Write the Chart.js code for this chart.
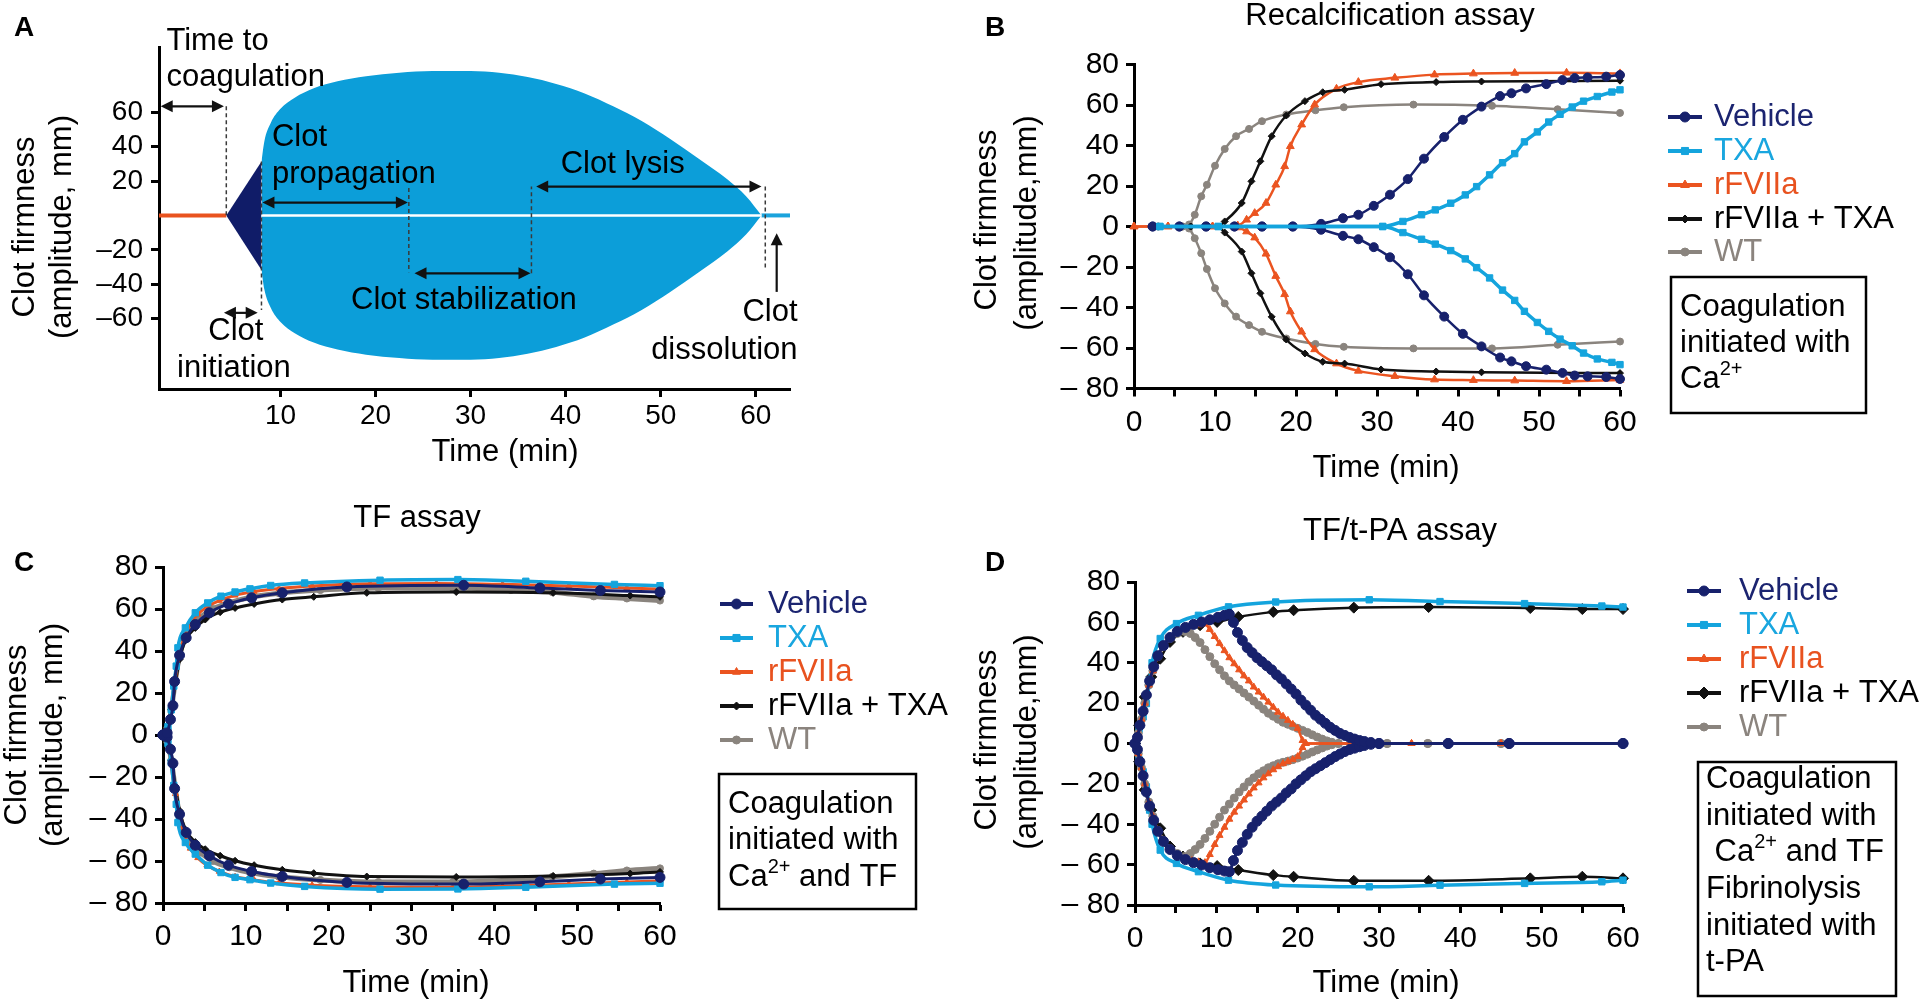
<!DOCTYPE html>
<html>
<head>
<meta charset="utf-8">
<script src="https://cdn.jsdelivr.net/npm/chart.js@4.4.0/dist/chart.umd.min.js"></script>
<style>
  html, body { margin: 0; padding: 0; background: #fff; }
  body { width: 1920px; height: 1000px; position: relative; overflow: hidden; }
  canvas { position: absolute; }
</style>
</head>
<body>
<canvas id="panelA" width="830" height="480" style="left:0px;top:0px"></canvas>
<canvas id="panelB" width="960" height="490" style="left:960px;top:0px"></canvas>
<canvas id="panelC" width="960" height="510" style="left:0px;top:490px"></canvas>
<canvas id="panelD" width="960" height="510" style="left:960px;top:490px"></canvas>
<script>
const FONT = '"Liberation Sans", Arial, Helvetica, sans-serif';

// ---------- panel A (schematic thromboelastogram) ----------
const aXTicks = [10, 20, 30, 40, 50, 60];
const aYTicks = [-60, -40, -20, 20, 40, 60];
const aBlobX   = [8, 8.3, 9, 10, 11.5, 13.5, 16, 19, 22.5, 26, 30, 33, 36, 39, 42, 45, 48, 51, 54, 57, 59, 60.6];
const aBlobTop = [31.4, 43, 54, 62, 68.5, 74, 78, 81, 83, 84, 84, 83, 80.5, 76.5, 71, 63.5, 55, 44.5, 33, 21, 11, 0];
const aBlobBot = [-31.8, -43, -54, -62, -68.5, -74, -78, -81, -83, -84, -84, -83, -80.5, -76.5, -71, -63.5, -55, -44.5, -33, -21, -11, 0];
const aTriX = [4.3, 8];
const aTriTop = [0, 31.4];
const aTriBot = [0, -31.8];
const aLagX = [-2.78, 4.3];
const aLagY = [0, 0];
const aBaseX = [8, 60.6];
const aBaseY = [0, 0];
const aTailX = [60.6, 63.6];
const aTailY = [0, 0];

// ---------- panels B-D ----------
const seriesNames = ['Vehicle', 'TXA', 'rFVIIa', 'rFVIIa + TXA', 'WT'];
const yTicks = [-80, -60, -40, -20, 0, 20, 40, 60, 80];
const xTicks = [0, 5, 10, 15, 20, 25, 30, 35, 40, 45, 50, 55, 60];

// B: recalcification assay
const bVehX  = [2.3, 5.6, 8.9, 12.4, 15.8, 19.6, 23.1, 25.8, 27.7, 29.6, 31.6, 33.8, 35.8, 38.3, 40.6, 42.9, 45.2, 46.6, 48.4, 50.9, 52.9, 54.4, 56, 58.3, 60];
const bVehUp = [0, 0, 0, 0, 0, 0, 1.3, 4.1, 5.8, 10.2, 15.7, 23.4, 33.5, 44.2, 52.7, 59.2, 64.4, 65.8, 68.2, 70.3, 72.3, 73.3, 73.6, 74, 74.8];
const bVehLo = [0, 0, 0, 0, 0, 0, -1.6, -4.6, -6.3, -10.2, -15.2, -23.6, -34, -44.5, -53, -59.2, -64.7, -66.6, -69, -70.7, -72.3, -73.6, -74, -74.3, -75.3];
const bTxaX  = [3.2, 10.4, 30.7, 33.2, 35.5, 37.2, 39.1, 40.9, 42.3, 43.9, 45.5, 47, 48.2, 49.8, 51.2, 52.6, 54.1, 55.5, 57.2, 59, 60];
const bTxaUp = [0, 0, 0, 2.5, 5.8, 8.2, 11.5, 15.6, 19.7, 25.5, 31.5, 36, 41.8, 46.7, 51.6, 55.4, 59, 61.9, 64.2, 66.4, 67.5];
const bTxaLo = [0, 0, 0, -3, -6.3, -8.7, -11.9, -16, -20.3, -25.4, -31.4, -36.5, -41.9, -47.4, -51.8, -55.6, -58.9, -62.5, -65.4, -67.1, -68.2];
const bRfX   = [0, 4.2, 9.7, 12.8, 13.9, 14.9, 16.3, 17.5, 18.6, 19.3, 20.7, 22.3, 25, 27.7, 32.2, 37.1, 41.9, 47, 53.4, 60];
const bRfUp  = [0, 0, 0, 0.5, 3.3, 6.6, 11.6, 20.6, 29.7, 39.6, 50.3, 60.2, 68, 71.3, 73.4, 75, 75.5, 75.8, 75.9, 75.6];
const bRfLo  = [0, 0, 0, -0.5, -2.5, -5.5, -13.5, -24.5, -33.5, -42, -52, -60.7, -67.7, -71.3, -73.9, -75.6, -75.9, -76.1, -76.4, -75.8];
const bRtX   = [3, 7, 10.3, 11.2, 13.3, 14.5, 15.6, 17, 18.8, 21.1, 23.3, 26, 30.5, 37.3, 42.9, 60];
const bRtUp  = [0, 0, 0, 2.5, 11.6, 22.3, 32.2, 44.6, 54.8, 61.9, 66.3, 67.5, 70.3, 71.3, 71.6, 72];
const bRtLo  = [0, 0, 0, -3, -12.4, -23.1, -33, -44.6, -55.8, -62.7, -66.8, -67.7, -70.6, -71.6, -72, -72.4];
const bWtX   = [3, 6, 6.8, 7.5, 8.3, 9, 10, 11.2, 12.6, 14.2, 15.8, 18.8, 22.4, 25.9, 34.5, 44.2, 52.3, 60];
const bWtUp  = [0, 0, 1, 5.8, 14.9, 20.6, 30, 38.3, 44.6, 48.2, 52, 55.3, 57.4, 58.9, 60.2, 59.6, 57.9, 56.1];
const bWtLo  = [0, 0, -1, -5.8, -13.2, -21, -30.5, -38, -44.5, -48.7, -52, -55.3, -58, -59.4, -60.2, -60.2, -58.4, -56.8];

// C: TF assay
const cVehX  = [0, 0.5, 0.9, 1.2, 1.4, 2, 2.8, 3.9, 5.6, 7.9, 10.7, 14.4, 22.2, 36.3, 45.5, 52.8, 60];
const cVehUp = [0, 1, 7.4, 14, 25.5, 38, 46.3, 52.6, 58.2, 62.4, 65.3, 67.7, 70.5, 71.3, 70, 68.8, 68.1];
const cVehLo = [0, -1, -6.8, -13.5, -25.5, -37.7, -46.4, -52.5, -57.5, -62, -65, -67.4, -70.2, -71, -69.9, -68.6, -67.8];
const cTxaX  = [0, 0.6, 1, 1.3, 1.6, 1.8, 2.7, 3.9, 5.4, 7, 8.7, 10.5, 13, 17.1, 26.2, 35.6, 43.8, 54.5, 60];
const cTxaUp = [0, 4, 12, 23.3, 32.8, 41.5, 51, 58.2, 62.9, 66.1, 68.1, 69.6, 71.2, 72.4, 73.7, 74, 73.2, 71.7, 71.1];
const cTxaLo = [0, -4, -13, -24, -33, -41.7, -51.2, -56.7, -62, -65.5, -67.8, -68.9, -70.5, -72.1, -73.4, -73.3, -72.5, -71, -70.6];
const cRfX   = [0, 0.5, 1, 1.5, 2, 2.6, 3.3, 4.2, 5.3, 6.8, 8.7, 11, 14, 18, 25, 33, 41, 49, 56, 60];
const cRfUp  = [-1, 2, 12, 27, 39, 47, 53, 57.5, 61, 64, 66.5, 68.3, 69.8, 71, 72, 72.2, 71.8, 71, 70, 69.5];
const cRfLo  = [-1, -3, -13, -28, -40, -48, -54, -58.5, -62, -65, -67.5, -69, -70.5, -71.5, -72.3, -72.5, -72, -71, -70, -69.5];
const cRtX   = [0, 0.5, 1, 1.5, 2, 2.7, 3.9, 5.1, 6.9, 8.7, 11, 14.4, 18.2, 24.6, 35.4, 47.1, 56.4, 60];
const cRtUp  = [0, 3, 12, 25, 36, 45, 51, 55, 58.5, 60.5, 62.4, 64.5, 65.8, 67.7, 68.1, 67.7, 66.4, 65.8];
const cRtLo  = [0, -3, -12, -25, -36, -45, -51, -54.4, -57.5, -59.9, -62, -64.2, -65.8, -67.4, -67.6, -67.1, -66, -65.2];
const cWtX   = [0, 0.5, 1, 1.5, 2, 2.7, 3.5, 4.5, 6, 8, 10.5, 14, 19, 26, 35, 42, 47, 52, 56, 60];
const cWtUp  = [0, 3, 12, 26, 38, 46, 52, 56, 60, 63, 65.5, 67.5, 69, 70, 70, 69, 68, 66, 65, 64];
const cWtLo  = [0, -3, -12, -26, -38, -46, -52, -56, -60, -63, -65.5, -67.5, -69, -70, -70, -69, -67.5, -66, -64.5, -63.5];

// D: TF/t-PA assay
const dVehX  = [0, 0.3, 0.6, 1, 1.4, 1.8, 2.3, 2.8, 3.5, 4.3, 5.2, 6.2, 7.2, 8.2, 9.2, 10.2, 11, 11.6, 12.1, 12.6, 13.2, 13.8, 14.4, 15, 15.6, 16.2, 16.8, 17.4, 18, 18.6, 19.2, 19.8, 20.4, 21, 21.6, 22.2, 22.8, 23.4, 24, 24.6, 25.2, 25.8, 26.4, 27, 27.6, 28.2, 29, 30, 38.5, 46, 60];
const dVehUp = [0, 3, 9, 16, 24, 31, 38, 43.5, 48.5, 52.5, 55.5, 57.5, 59, 60.2, 61.3, 62.5, 63.5, 64, 60, 55, 51, 47.5, 45, 42.5, 40.5, 38.5, 36.5, 34, 32, 29.5, 27, 24.5, 21.5, 19, 16.5, 14, 12, 10, 8, 6.5, 5, 4, 3, 2.2, 1.5, 1, 0.5, 0, 0, 0, 0];
const dVehLo = [0, -3, -9, -16, -24, -31, -38, -43.5, -48.5, -52.5, -55.5, -57.5, -59, -60.2, -61.5, -62.5, -63.2, -63.5, -58, -53, -49, -45, -41.5, -38.5, -36, -33.5, -31, -29, -27, -24.5, -22.5, -20, -18, -16, -14, -12.5, -11, -9.5, -8, -6.5, -5.2, -4, -3, -2.3, -1.6, -1, -0.4, 0, 0, 0, 0];
const dTxaX  = [0, 0.5, 1, 1.4, 1.8, 2.1, 3.1, 5.1, 7.8, 11.5, 17.3, 28.8, 37.5, 47.9, 57.4, 60];
const dTxaUp = [0, 7, 13.2, 19.8, 31.4, 40, 52, 59.4, 63.5, 67.7, 70.1, 71.2, 70.3, 69.3, 68.1, 67.6];
const dTxaLo = [0, -8, -14, -21.5, -33, -40, -52.8, -59.4, -63.5, -67.7, -70.1, -71, -70.2, -69.3, -68.5, -67.7];
const dRfX   = [0, 0.4, 0.8, 1.2, 1.7, 2.2, 2.8, 3.5, 4.3, 5.2, 6.1, 7, 7.8, 8.6, 9.2, 9.8, 10.4, 11, 11.6, 12.2, 12.8, 13.4, 14, 14.6, 15.2, 15.8, 16.4, 17, 17.6, 18.2, 18.8, 19.4, 20, 20.6, 21, 27, 34, 45, 60];
const dRfUp  = [0, 5, 12, 20, 29, 36, 43, 48.5, 52.5, 55.5, 57, 58, 58.8, 59.2, 56.5, 53, 49.5, 46, 42.5, 39.5, 36.5, 33.5, 31, 28, 25.5, 23, 20.5, 18, 15.5, 13.5, 11.5, 9.5, 7.5, 1.5, 0, 0, 0, 0, 0];
const dRfLo  = [0, -5, -12, -20, -29, -36, -43, -48.5, -52.5, -55.5, -57, -58, -58.6, -59, -55, -50, -45.5, -41.5, -37.5, -34, -31, -28, -25, -22, -19.5, -17, -15, -13, -11.5, -10, -9, -8, -6.5, -2, 0, 0, 0, 0, 0];
const dRtX   = [0, 0.5, 1.2, 2, 3.1, 4.3, 5.9, 8, 10.1, 12.7, 17, 19.5, 26.9, 36.1, 48.6, 55, 60];
const dRtUp  = [0, 9, 23, 33, 42, 50.3, 55.3, 58.6, 60.2, 62.7, 65.2, 66, 67.3, 67.6, 67.1, 66.6, 66.6];
const dRtLo  = [0, -9, -23, -33, -42, -51, -56, -59.4, -60.7, -62.7, -65.2, -66, -68, -68, -66.8, -66, -66.8];
const dWtX   = [0, 0.4, 0.8, 1.2, 1.7, 2.2, 2.8, 3.5, 4.3, 5.2, 6.1, 6.8, 7.4, 8, 8.6, 9.2, 9.8, 10.4, 11, 11.6, 12.2, 12.8, 13.4, 14, 14.6, 15.2, 15.8, 16.4, 17, 17.6, 18.2, 18.8, 19.4, 20, 20.6, 21.2, 21.8, 22.4, 23, 23.6, 24.2, 25, 28, 31, 36, 45, 60];
const dWtUp  = [0, 5, 12, 20, 29, 36, 43, 48, 52, 54.5, 55.5, 54.5, 52.5, 50, 46.5, 43, 39.5, 36.5, 33.5, 31, 29, 27, 25, 23, 21, 19, 17, 15, 13.5, 12, 10.5, 9.5, 8.5, 7.5, 6.5, 5.5, 4.3, 3.2, 2.2, 1.3, 0.6, 0, 0, 0, 0, 0, 0];
const dWtLo  = [0, -5, -12, -20, -29, -36, -43, -48, -52, -54.5, -56, -54.5, -52.5, -50, -47, -43.5, -40, -36.5, -33, -30, -27, -24, -21.5, -19, -17, -15, -13.5, -12, -11, -10, -9.3, -8.7, -8, -7.2, -6.3, -5.3, -4.2, -3.2, -2.2, -1.3, -0.6, 0, 0, 0, 0, 0, 0];

// notes in the boxes ('^' marks a superscript piece)
const noteB = [['Coagulation'], ['initiated with'], ['Ca', '^2+']];
const noteC = [['Coagulation'], ['initiated with'], ['Ca', '^2+', ' and TF']];
const noteD = [['Coagulation'], ['initiated with'], [' Ca', '^2+', ' and TF'], ['Fibrinolysis'], ['initiated with'], ['t-PA']];

// ---------- styles ----------
const COL = { veh: '#17216c', txa: '#14a4dd', rf: '#eb5420', rt: '#111111', wt: '#8a847e' };
const TXTCOL = ['#1b2470', '#19a6df', '#e8521f', '#000000', '#8b847e'];
const MARK = ['circle', 'rect', 'triangle', 'rectRot', 'circle'];

// page geometry: canvas box and plot area [left, top, right, bottom]
const GEOM = {
  panelA: { L: 0, T: 0, W: 830, H: 480, area: [159, 47, 790, 389] },
  panelB: { L: 960, T: 0, W: 960, H: 490, area: [1134, 64.5, 1620, 388.5] },
  panelC: { L: 0, T: 490, W: 960, H: 510, area: [163, 567, 660, 903] },
  panelD: { L: 960, T: 490, W: 960, H: 510, area: [1135, 582, 1623, 905] },
};

const DECOR = {
  panelA: { letter: ['A', 24, 28], yTitle: [['Clot firmness', 25, 227], ['(amplitude, mm)', 62, 227]], xTitle: ['Time (min)', 505, 452] },
  panelB: {
    letter: ['B', 995, 28], title: ['Recalcification assay', 1390, 16],
    yTitle: [['Clot firmness', 987, 220], ['(amplitude,mm)', 1027, 223]], xTitle: ['Time (min)', 1386, 468],
    legend: { lineX: [1668, 1702], textX: 1714, ys: [117, 151, 185, 219, 252] },
    box: { rect: [1671, 277, 195, 136], textX: 1680, ys: [307, 343, 379], lines: noteB },
  },
  panelC: {
    letter: ['C', 24, 563], title: ['TF assay', 417, 518],
    yTitle: [['Clot firmness', 17, 735], ['(amplitude, mm)', 53, 735]], xTitle: ['Time (min)', 416, 983],
    legend: { lineX: [720, 753], textX: 768, ys: [604, 638, 672, 706, 740] },
    box: { rect: [719, 774, 197, 135], textX: 728, ys: [804, 840, 877], lines: noteC },
  },
  panelD: {
    letter: ['D', 995, 563], title: ['TF/t-PA assay', 1400, 531],
    yTitle: [['Clot firmness', 987, 740], ['(amplitude,mm)', 1027, 742]], xTitle: ['Time (min)', 1386, 983],
    legend: { lineX: [1687, 1721], textX: 1739, ys: [591, 625, 659, 693, 727] },
    box: { rect: [1698, 762, 198, 234], textX: 1706, ys: [779, 816, 852, 889, 926, 962], lines: noteD },
  },
};

function txt(ctx, s, x, y, size, color, align, rot, bold) {
  ctx.save();
  ctx.translate(x, y);
  if (rot) ctx.rotate(rot);
  ctx.font = (bold ? 'bold ' : '') + size + 'px ' + FONT;
  ctx.fillStyle = color;
  ctx.textAlign = align || 'left';
  ctx.textBaseline = 'middle';
  ctx.fillText(s, 0, 0);
  ctx.restore();
}

const decorPlugin = {
  id: 'decor',
  afterDraw(chart) {
    const id = chart.canvas.id, g = GEOM[id], d = DECOR[id], ctx = chart.ctx;
    const ox = g.L, oy = g.T;
    txt(ctx, d.letter[0], d.letter[1] - ox, d.letter[2] - oy, 28, '#000', 'center', 0, true);
    if (d.title) txt(ctx, d.title[0], d.title[1] - ox, d.title[2] - oy, 31, '#000', 'center');
    d.yTitle.forEach(t => txt(ctx, t[0], t[1] - ox, t[2] - oy, 31, '#000', 'center', -Math.PI / 2));
    txt(ctx, d.xTitle[0], d.xTitle[1] - ox, d.xTitle[2] - oy, 31, '#000', 'center');
    const series = chart.$series;
    if (d.legend && series) {
      const lg = d.legend;
      series.forEach((s, i) => {
        const y = lg.ys[i] - oy;
        ctx.save();
        ctx.strokeStyle = s.color; ctx.lineWidth = 4;
        ctx.beginPath(); ctx.moveTo(lg.lineX[0] - ox, y); ctx.lineTo(lg.lineX[1] - ox, y); ctx.stroke();
        ctx.fillStyle = s.color; ctx.lineWidth = 1;
        Chart.helpers.drawPoint(ctx, { pointStyle: s.marker, radius: s.legendR, rotation: 0, borderWidth: 1 },
          (lg.lineX[0] + lg.lineX[1]) / 2 - ox, y);
        ctx.restore();
        txt(ctx, seriesNames[i], lg.textX - ox, y, 31, TXTCOL[i], 'left');
      });
    }
    if (d.box) {
      const b = d.box;
      ctx.save();
      ctx.strokeStyle = '#000'; ctx.lineWidth = 2.5;
      ctx.strokeRect(b.rect[0] - ox, b.rect[1] - oy, b.rect[2], b.rect[3]);
      ctx.restore();
      b.lines.forEach((parts, i) => {
        let x = b.textX - ox;
        const y = b.ys[i] - oy;
        parts.forEach(p => {
          const sup = p[0] === '^';
          const s = sup ? p.slice(1) : p;
          const size = sup ? 20 : 31;
          txt(ctx, s, x, sup ? y - 10 : y, size, '#000', 'left');
          ctx.font = size + 'px ' + FONT;
          x += ctx.measureText(s).width;
        });
      });
    }
  }
};

// annotation marks of the schematic, in data units
const annotA = {
  dashes: [[4.3, 63.5, 0], [8, 31.4, -55], [23.5, 16, -33], [36.4, -33.7, 16.8], [61, 16.8, -32]],
  arrows: [[-2.6, 4.05, 63.5], [4.05, 7.6, -56.7], [8.1, 23.4, 7.5], [24.1, 36.3, -33.7], [36.9, 60.6, 16.8]],
  up: [62.2, -44.5, -10.4],
  texts: [
    ['Time to', -2, 101.5, 'left'], ['coagulation', -2, 80.3, 'left'],
    ['Clot', 9.1, 45.2, 'left'], ['propagation', 9.1, 23.6, 'left'],
    ['Clot lysis', 46, 29.5, 'center'], ['Clot stabilization', 29.3, -49.3, 'center'],
    ['Clot', 5.3, -67.5, 'center'], ['initiation', 5.1, -89, 'center'],
    ['Clot', 64.4, -56.3, 'right'], ['dissolution', 64.4, -78.5, 'right'],
  ],
};

function head(ctx, x, y, dx, dy) {
  const len = 12, half = 6;
  ctx.beginPath();
  ctx.moveTo(x, y);
  ctx.lineTo(x - dx * len - dy * half, y - dy * len + dx * half);
  ctx.lineTo(x - dx * len + dy * half, y - dy * len - dx * half);
  ctx.closePath();
  ctx.fill();
}

const annotPlugin = {
  id: 'annotA',
  afterDatasetsDraw(chart) {
    const ctx = chart.ctx, sx = chart.scales.x, sy = chart.scales.y;
    const X = v => sx.getPixelForValue(v), Y = v => sy.getPixelForValue(v);
    ctx.save();
    ctx.strokeStyle = '#3a3a3a'; ctx.lineWidth = 1.5; ctx.setLineDash([4, 3]);
    annotA.dashes.forEach(([x, y1, y2]) => {
      ctx.beginPath(); ctx.moveTo(X(x), Y(y1)); ctx.lineTo(X(x), Y(y2)); ctx.stroke();
    });
    ctx.setLineDash([]);
    ctx.strokeStyle = '#111'; ctx.fillStyle = '#111'; ctx.lineWidth = 2.2;
    annotA.arrows.forEach(([x1, x2, y]) => {
      ctx.beginPath(); ctx.moveTo(X(x1) + 6, Y(y)); ctx.lineTo(X(x2) - 6, Y(y)); ctx.stroke();
      head(ctx, X(x1), Y(y), -1, 0);
      head(ctx, X(x2), Y(y), 1, 0);
    });
    const [ux, uy1, uy2] = annotA.up;
    ctx.beginPath(); ctx.moveTo(X(ux), Y(uy1)); ctx.lineTo(X(ux), Y(uy2) + 6); ctx.stroke();
    head(ctx, X(ux), Y(uy2), 0, -1);
    ctx.restore();
    annotA.texts.forEach(([s, x, y, al]) => txt(ctx, s, X(x), Y(y), 31, '#000', al));
  }
};

function axis(o) {
  return {
    type: 'linear', min: o.min, max: o.max,
    afterBuildTicks: s => { s.ticks = o.values.map(v => ({ value: v })); },
    afterFit: s => {
      if (s.isHorizontal()) s.height = o.size; else s.width = o.size;
      s.paddingLeft = 0; s.paddingRight = 0; s.paddingTop = 0; s.paddingBottom = 0;
    },
    grid: { drawOnChartArea: false, drawTicks: true, tickLength: 8, tickWidth: 3, tickColor: '#000' },
    border: { display: true, color: '#000', width: 3 },
    ticks: { autoSkip: false, maxRotation: 0, minRotation: 0, padding: o.pad, color: '#000',
             font: { family: FONT, size: o.font }, callback: o.fmt },
  };
}

function options(id, xo, yo) {
  const g = GEOM[id], a = g.area;
  return {
    responsive: false, animation: false, devicePixelRatio: 1, events: [],
    layout: { autoPadding: false, padding: { left: 0, top: a[1] - g.T, right: g.L + g.W - a[2], bottom: 0 } },
    plugins: { legend: { display: false }, tooltip: { enabled: false }, title: { display: false } },
    scales: {
      x: axis(Object.assign({ size: g.T + g.H - a[3] }, xo)),
      y: axis(Object.assign({ size: a[0] - g.L }, yo)),
    },
  };
}

const pts = (xs, ys) => xs.map((x, i) => ({ x, y: ys[i] }));

function buildSets(series) {
  const out = [];
  series.forEach(s => {
    [s.up, s.lo].forEach(ys => {
      out.push({
        data: pts(s.x, ys), borderColor: s.color, backgroundColor: s.color, borderWidth: s.width,
        pointStyle: s.marker, pointRadius: s.r, pointBorderWidth: 1,
        pointBackgroundColor: s.color, pointBorderColor: s.color,
        cubicInterpolationMode: 'monotone', fill: false, clip: false, order: s.order,
      });
    });
  });
  return out;
}

function makePanel(id, series) {
  const fmtY = v => (v < 0 ? '\u2013 ' + Math.abs(v) : String(v));
  const fmtX = v => (v % 10 === 0 ? String(v) : '');
  return new Chart(document.getElementById(id), {
    type: 'line',
    data: { datasets: buildSets(series) },
    options: options(id,
      { min: 0, max: 60, values: xTicks, font: 30, pad: 8, fmt: fmtX },
      { min: -80, max: 80, values: yTicks, font: 30, pad: 7, fmt: fmtY }),
    plugins: [decorPlugin, { id: 'seriesRef', beforeDraw: c => { c.$series = series; } }],
  });
}

function ser(x, up, lo, k, r, width, order, legendR) {
  return { x, up, lo, color: Object.values(COL)[k], marker: MARK[k], r, width, order, legendR };
}

makePanel('panelB', [
  ser(bVehX, bVehUp, bVehLo, 0, 4.5, 2.5, 2, 5),
  ser(bTxaX, bTxaUp, bTxaLo, 1, 4.5, 3.5, 1, 5),
  ser(bRfX, bRfUp, bRfLo, 2, 4.5, 2.5, 4, 5),
  ser(bRtX, bRtUp, bRtLo, 3, 3.5, 2.5, 3, 4),
  ser(bWtX, bWtUp, bWtLo, 4, 3.5, 2.5, 5, 4),
]);
makePanel('panelC', [
  ser(cVehX, cVehUp, cVehLo, 0, 5, 3, 1, 5),
  ser(cTxaX, cTxaUp, cTxaLo, 1, 4.5, 3.5, 2, 5),
  ser(cRfX, cRfUp, cRfLo, 2, 3.5, 3, 3, 4.5),
  ser(cRtX, cRtUp, cRtLo, 3, 3.5, 3, 4, 4),
  ser(cWtX, cWtUp, cWtLo, 4, 3.5, 5, 5, 4),
]);
makePanel('panelD', [
  ser(dVehX, dVehUp, dVehLo, 0, 5, 3, 1, 5),
  ser(dTxaX, dTxaUp, dTxaLo, 1, 4.5, 3.5, 4, 5),
  ser(dRfX, dRfUp, dRfLo, 2, 4, 2.5, 2, 5),
  ser(dRtX, dRtUp, dRtLo, 3, 5.5, 2.5, 5, 6),
  ser(dWtX, dWtUp, dWtLo, 4, 4, 2.5, 3, 4),
]);

// panel A
new Chart(document.getElementById('panelA'), {
  type: 'line',
  data: {
    datasets: [
      { data: pts(aBlobX, aBlobTop), borderWidth: 0, pointRadius: 0, backgroundColor: '#0c9ed9', fill: '+1', order: 10, cubicInterpolationMode: 'monotone' },
      { data: pts(aBlobX, aBlobBot), borderWidth: 0, pointRadius: 0, backgroundColor: '#0c9ed9', fill: false, order: 10, cubicInterpolationMode: 'monotone' },
      { data: pts(aTriX, aTriTop), borderWidth: 0, pointRadius: 0, backgroundColor: '#101c68', fill: '+1', order: 8 },
      { data: pts(aTriX, aTriBot), borderWidth: 0, pointRadius: 0, backgroundColor: '#101c68', fill: false, order: 8 },
      { data: pts(aBaseX, aBaseY), borderWidth: 2.5, borderColor: '#ffffff', pointRadius: 0, fill: false, order: 6 },
      { data: pts(aTailX, aTailY), borderWidth: 4, borderColor: '#1aa3dc', pointRadius: 0, fill: false, order: 6, clip: false },
      { data: pts(aLagX, aLagY), borderWidth: 4, borderColor: '#e9531f', pointRadius: 0, fill: false, order: 5, clip: false },
    ],
  },
  options: options('panelA',
    { min: -2.78, max: 63.6, values: aXTicks, font: 28, pad: 2, fmt: v => String(v) },
    { min: -101, max: 98, values: aYTicks, font: 28, pad: 8, fmt: v => (v < 0 ? '\u2013' + Math.abs(v) : String(v)) }),
  plugins: [decorPlugin, annotPlugin],
});
</script>
</body>
</html>
